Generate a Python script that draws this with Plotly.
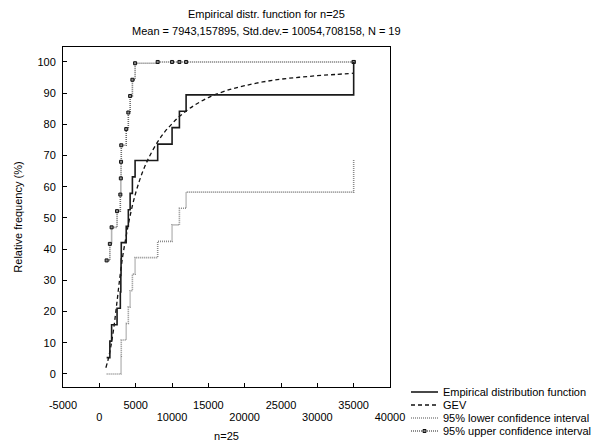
import plotly.graph_objects as go

# ---- data ----
sample_x = [1005, 1450, 1690, 2440, 2890, 2960, 2990, 3020, 3700, 3990,
            4240, 4550, 4920, 8030, 10010, 11020, 11940, 35000, 35000]
empirical_pct = [5.26, 10.53, 15.79, 21.05, 26.32, 31.58, 36.84, 42.11, 47.37, 52.63,
                 57.89, 63.16, 68.42, 73.68, 78.95, 84.21, 89.47, 94.74, 100.0]
lower_ci_pct = [0, 0, 0, 0, 0, 0.4, 5.7, 10.9, 16.2, 21.5,
                26.7, 32.0, 37.3, 42.5, 47.8, 53.1, 58.3, 63.6, 68.8]
upper_ci_pct = [36.4, 41.7, 47.0, 52.2, 57.5, 62.7, 68.0, 73.3, 78.5, 83.8,
                89.1, 94.3, 99.6, 100, 100, 100, 100, 100, 100]

gev_x = [900, 1200, 1600, 2000, 2400, 2800, 3200, 3600, 4000, 4500, 5000, 5500,
         6000, 6500, 7000, 8000, 9000, 10000, 11000, 12000, 13000, 14000, 15000,
         16000, 18000, 20000, 22500, 25000, 27500, 30000, 32500, 35000]
gev_pct = [2.0, 4.5, 9.0, 15.0, 22.5, 30.5, 37.5, 43.0, 48.0, 53.5, 58.0, 61.8,
           65.0, 67.8, 70.2, 74.3, 77.6, 80.2, 82.5, 84.4, 86.0, 87.4, 88.6,
           89.6, 91.2, 92.4, 93.6, 94.5, 95.1, 95.6, 96.0, 96.4]

x_ticks_upper_row = [-5000, 5000, 15000, 25000, 35000]
x_ticks_lower_row = [0, 10000, 20000, 30000, 40000]
y_ticks = list(range(0, 101, 10))

legend_labels = ["Empirical distribution function", "GEV",
                 "95% lower confidence interval", "95% upper confidence interval"]

FONT = "Liberation Sans, Arial, sans-serif"

# page body offsets the figure by 8px; work in screen pixels and subtract it
OFF = 8
W, H = 614 - OFF, 446 - OFF
L, R, T, B = 63 - OFF, 390 - OFF, 47 - OFF, 387 - OFF

def px_x(p):
    return (p - OFF - L) / (R - L)

def px_y(p):
    return (B - (p - OFF)) / (B - T)

fig = go.Figure()
fig.add_trace(go.Scatter(x=sample_x, y=lower_ci_pct, mode="lines", line_shape="hv",
                         line=dict(color="#8a8a8a", width=1.6, dash="1px,1px"),
                         name=legend_labels[2], showlegend=False))
fig.add_trace(go.Scatter(x=sample_x, y=upper_ci_pct, mode="lines+markers", line_shape="hv",
                         line=dict(color="#6a6a6a", width=1.6, dash="1px,1px"),
                         marker=dict(symbol="square", size=3, color="#888",
                                     line=dict(color="#111", width=1)),
                         name=legend_labels[3], showlegend=False))
fig.add_trace(go.Scatter(x=gev_x, y=gev_pct, mode="lines", line_shape="spline",
                         line=dict(color="#111", width=1.3, dash="4px,3px"),
                         name=legend_labels[1], showlegend=False))
fig.add_trace(go.Scatter(x=sample_x, y=empirical_pct, mode="lines", line_shape="hv",
                         line=dict(color="#1a1a1a", width=1.6),
                         name=legend_labels[0], showlegend=False))
# invisible carrier so the second (lower-row) x axis is drawn
fig.add_trace(go.Scatter(x=[sample_x[0]], y=[empirical_pct[0]], xaxis="x2", mode="markers",
                         marker=dict(opacity=0), hoverinfo="skip", showlegend=False))

ann = []
for text, ty in [("Empirical distr. function for n=25", 14),
                 ("Mean = 7943,157895, Std.dev.= 10054,708158, N = 19", 31)]:
    ann.append(dict(text=text, xref="paper", yref="paper", x=px_x(266), y=px_y(ty),
                    xanchor="center", yanchor="middle", showarrow=False,
                    font=dict(family=FONT, size=11, color="#000")))

shapes = []
rows = [392, 405, 418, 431]
for lab, ry in zip(legend_labels, rows):
    ann.append(dict(text=lab, xref="paper", yref="paper", x=px_x(441), y=px_y(ry),
                    xanchor="left", yanchor="middle", showarrow=False,
                    font=dict(family=FONT, size=11, color="#000")))
styles = [dict(color="#1a1a1a", width=1.6, dash="solid"),
          dict(color="#111", width=1.3, dash="4px,3px"),
          dict(color="#8a8a8a", width=1.6, dash="1px,1px"),
          dict(color="#6a6a6a", width=1.6, dash="1px,1px")]
for st, ry in zip(styles, rows):
    shapes.append(dict(type="line", xref="paper", yref="paper",
                       x0=px_x(411), x1=px_x(438), y0=px_y(ry), y1=px_y(ry), line=st))
shapes.append(dict(type="rect", xref="paper", yref="paper",
                   x0=px_x(423), x1=px_x(426), y0=px_y(rows[3] - 1.5), y1=px_y(rows[3] + 1.5),
                   line=dict(color="#111", width=1), fillcolor="#888"))

all_ticks = sorted(x_ticks_upper_row + x_ticks_lower_row)

fig.update_layout(
    width=W, height=H,
    margin=dict(l=L, r=W - R, t=T, b=H - B, autoexpand=False),
    paper_bgcolor="white", plot_bgcolor="white",
    font=dict(family=FONT, size=11, color="#000"),
    showlegend=False,
    annotations=ann, shapes=shapes,
    xaxis=dict(range=[-5000, 40000], tickvals=all_ticks,
               ticktext=[str(v) if v in x_ticks_upper_row else "" for v in all_ticks],
               ticks="inside", ticklen=4, tickcolor="#000", showgrid=False, zeroline=False,
               showline=True, linecolor="#000", linewidth=1, mirror=True,
               ticklabelstandoff=8,
               title=dict(text="n=25", standoff=22, font=dict(size=11))),
    xaxis2=dict(range=[-5000, 40000], overlaying="x", side="bottom", anchor="y",
                tickvals=x_ticks_lower_row, ticktext=[str(v) for v in x_ticks_lower_row],
                ticks="", showgrid=False, zeroline=False,
                showline=False, ticklabelstandoff=22),
    yaxis=dict(range=[-4.17, 104.8], tickvals=y_ticks,
               ticks="inside", ticklen=4, tickcolor="#000", showgrid=False, zeroline=False,
               showline=True, linecolor="#000", linewidth=1, mirror=True,
               ticklabelstandoff=4,
               title=dict(text="Relative frequency (%)", standoff=12, font=dict(size=11))),
)

fig.write_html("out.html")
